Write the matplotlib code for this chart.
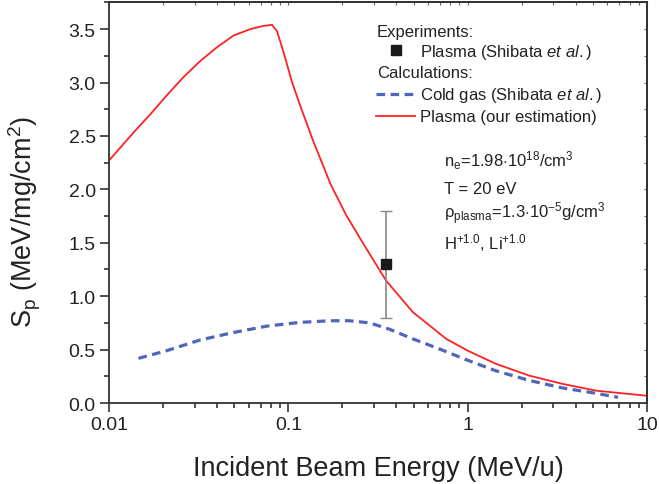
import numpy as np
import matplotlib
matplotlib.use("Agg")
import matplotlib.pyplot as plt
from matplotlib.ticker import FixedLocator, LogLocator, NullFormatter, FuncFormatter, MultipleLocator
from matplotlib.lines import Line2D

plt.rcParams['font.family'] = ['Liberation Sans', 'DejaVu Sans']
plt.rcParams['mathtext.fontset'] = 'custom'
plt.rcParams['mathtext.rm'] = 'Liberation Sans'
plt.rcParams['mathtext.it'] = 'Liberation Sans:italic'

# plasma, our estimation (red)
E_plasma = [0.01, 0.01367, 0.01694, 0.0210, 0.0260, 0.0322, 0.0400, 0.0495, 0.0614, 0.0728,
            0.0811, 0.0865, 0.0942, 0.105, 0.1167, 0.1356, 0.1718, 0.210, 0.260, 0.351,
            0.495, 0.760, 1.00, 1.445, 2.22, 3.40, 5.23, 10.0]
S_plasma = [2.27, 2.53, 2.70, 2.88, 3.05, 3.20, 3.33, 3.44, 3.50, 3.53,
            3.54, 3.48, 3.28, 3.00, 2.78, 2.48, 2.05, 1.76, 1.50, 1.145,
            0.85, 0.60, 0.49, 0.365, 0.255, 0.178, 0.115, 0.068]

# cold gas, Shibata et al. (blue dashed)
E_cold = [0.0146, 0.0210, 0.0322, 0.0495, 0.0760, 0.1167, 0.172, 0.219, 0.284, 0.367,
          0.495, 0.698, 1.00, 1.445, 2.22, 3.40, 5.23, 6.89]
S_cold = [0.418, 0.49, 0.59, 0.66, 0.72, 0.755, 0.77, 0.77, 0.75, 0.69,
          0.60, 0.505, 0.40, 0.30, 0.21, 0.14, 0.09, 0.053]

# experiment
E_exp = [0.351]
S_exp = [1.30]
S_err = [0.50]

dash = (0, (2.7, 1.7))
blue = '#3c56b2'
red = '#ff2222'
tc = '#222222'

fig = plt.figure(figsize=(6.59, 4.85), dpi=100)
ax = fig.add_axes([0.1654, 0.167, 0.8164, 0.826])

ax.plot(E_plasma, S_plasma, color=red, lw=1.3)
ax.plot(E_cold, S_cold, color=blue, lw=2.3, ls=dash, alpha=0.9)
ax.errorbar(E_exp, S_exp, yerr=S_err, fmt='s', color='#1a1a1a', ms=6.8,
            ecolor='#888888', elinewidth=1.2, capsize=4.5, capthick=1.0, zorder=3)

ax.set_xscale('log')
ax.set_xlim(0.01, 10)
ax.set_ylim(0, 3.75)
ax.xaxis.set_major_locator(FixedLocator([0.01, 0.1, 1, 10]))
ax.xaxis.set_major_formatter(FuncFormatter(lambda v, p: '%g' % v))
ax.xaxis.set_minor_locator(LogLocator(base=10, subs=np.arange(2, 10)))
ax.xaxis.set_minor_formatter(NullFormatter())
ax.yaxis.set_major_locator(MultipleLocator(0.5))
ax.yaxis.set_minor_locator(MultipleLocator(0.25))
ax.yaxis.set_major_formatter(FuncFormatter(lambda v, p: '%.1f' % v))

for s in ax.spines.values():
    s.set_linewidth(1.3)
    s.set_color('#333333')
ax.tick_params(which='both', direction='out', colors='#333333', labelcolor=tc, labelsize=14, width=1.2)
ax.tick_params(which='major', length=6.5, pad=3)
ax.tick_params(which='minor', length=3.6)

# small inward ticks on top and right
axt = ax.secondary_xaxis('top')
axt.xaxis.set_major_locator(FixedLocator([0.01, 0.1, 1, 10]))
axt.xaxis.set_minor_locator(LogLocator(base=10, subs=np.arange(2, 10)))
axt.tick_params(which='both', direction='in', length=2.5, width=0.8, colors='#666666', labeltop=False)
axr = ax.secondary_yaxis('right')
axr.yaxis.set_major_locator(MultipleLocator(0.5))
axr.yaxis.set_minor_locator(MultipleLocator(0.25))
axr.tick_params(which='both', direction='in', length=2.5, width=0.8, colors='#666666', labelright=False)
for a in (axt, axr):
    for s in a.spines.values():
        s.set_linewidth(1.3)
        s.set_color('#333333')

ax.set_xlabel('Incident Beam Energy (MeV/u)', fontsize=19.5, color=tc)
ax.xaxis.set_label_coords(0.5, -0.13)
ax.set_ylabel(r'S$_\mathrm{p}$ (MeV/mg/cm$^2$)', fontsize=19.5, color=tc)
ax.yaxis.set_label_coords(-0.123, 0.453)

# legend
ax.text(0.498, 0.928, 'Experiments:', transform=ax.transAxes, fontsize=12, color=tc, va='center')
ax.text(0.498, 0.824, 'Calculations:', transform=ax.transAxes, fontsize=12, color=tc, va='center')
h1 = [Line2D([], [], ls='none', marker='s', ms=6.5, color='#1a1a1a')]
leg1 = ax.legend(h1, [r'Plasma (Shibata $\mathit{et\ al.}$)'], loc='center left',
                 bbox_to_anchor=(0.496, 0.877), frameon=False, fontsize=12,
                 handlelength=2.36, handletextpad=0.26, borderpad=0, borderaxespad=0,
                 labelcolor=tc)
ax.add_artist(leg1)
h2 = [Line2D([], [], color=blue, lw=2.3, ls=dash, alpha=0.9),
      Line2D([], [], color=red, lw=1.3)]
ax.legend(h2, [r'Cold gas (Shibata $\mathit{et\ al.}$)', 'Plasma (our estimation)'],
          loc='center left', bbox_to_anchor=(0.496, 0.744), frameon=False, fontsize=12,
          handlelength=2.34, handletextpad=0.28, borderpad=0, borderaxespad=0,
          labelspacing=0.3, labelcolor=tc)

# plasma parameters
params = [r'n$_\mathrm{e}$=1.98$\cdot$10$^{18}$/cm$^3$',
          'T = 20 eV',
          r'ρ$_\mathrm{plasma}$=1.3$\cdot$10$^{-5}$g/cm$^3$',
          r'H$^{+1.0}$, Li$^{+1.0}$']
param_y = [0.592, 0.524, 0.463, 0.386]
for t, yy in zip(params, param_y):
    ax.text(0.6227, yy, t, transform=ax.transAxes, fontsize=12, color=tc, va='baseline')

fig.savefig('out.png', dpi=100)
